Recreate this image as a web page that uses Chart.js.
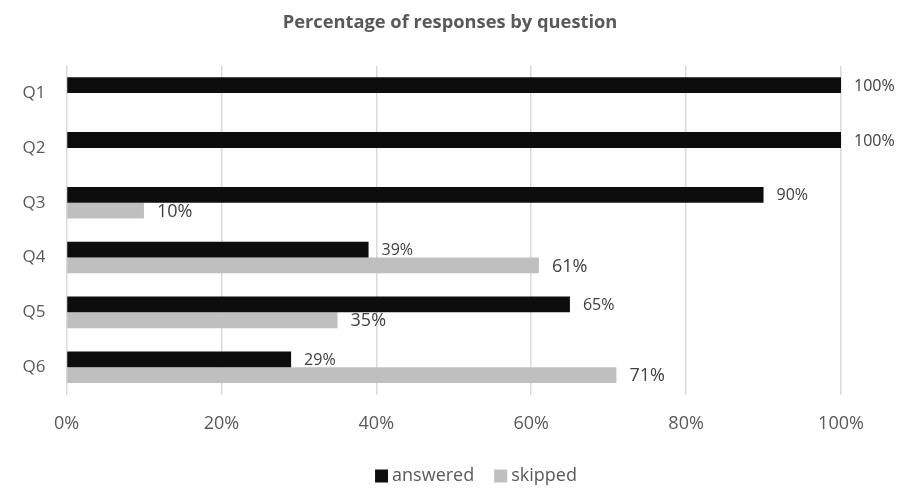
<!DOCTYPE html>
<html>
<head>
<meta charset="utf-8">
<script src="https://cdn.jsdelivr.net/npm/chart.js@4.4.1/dist/chart.umd.min.js"></script>
<style>
  html, body { margin: 0; padding: 0; background: #ffffff; }
  #wrap { width: 900px; height: 489px; position: relative; }
</style>
</head>
<body>
<div id="wrap"><canvas id="responsesChart"></canvas></div>
<script>
const questions = ["Q1", "Q2", "Q3", "Q4", "Q5", "Q6"];
const answered = [100, 100, 90, 39, 65, 29];
const skipped = [0, 0, 10, 61, 35, 71];
const xTicks = [0, 20, 40, 60, 80, 100];

const FONT = "'Open Sans', 'Liberation Sans', sans-serif";
const TEXT_GREY = "#595959";

// value labels at the end of each bar (skipped zeros are left blank)
const barLabels = {
  id: "barLabels",
  afterDatasetsDraw(chart) {
    const ctx = chart.ctx;
    ctx.save();
    ctx.textBaseline = "middle";
    ctx.textAlign = "left";
    ctx.fillStyle = "#404040";
    chart.data.datasets.forEach((ds, di) => {
      const meta = chart.getDatasetMeta(di);
      ctx.font = `${ds.labelSize}px ${FONT}`;
      meta.data.forEach((bar, i) => {
        const v = ds.data[i];
        if (!v) return;
        ctx.fillText(v + "%", bar.x + 13, bar.y + 1);
      });
    });
    ctx.restore();
  }
};

// legend row under the axis: square swatch, short gap, label
const bottomLegend = {
  id: "bottomLegend",
  afterDraw(chart) {
    const ctx = chart.ctx;
    const box = 13, gap = 4, itemGap = 20, cy = 476, centerX = 476;
    ctx.save();
    ctx.font = `18px ${FONT}`;
    ctx.textBaseline = "middle";
    const items = chart.data.datasets.map(ds => ({
      text: ds.label, color: ds.backgroundColor, w: ctx.measureText(ds.label).width
    }));
    const total = items.reduce((s, it) => s + box + gap + it.w, 0) + itemGap * (items.length - 1);
    let x = centerX - total / 2;
    items.forEach(it => {
      ctx.fillStyle = it.color;
      ctx.fillRect(x, cy - box / 2, box, box);
      ctx.fillStyle = TEXT_GREY;
      ctx.fillText(it.text, x + box + gap, cy);
      x += box + gap + it.w + itemGap;
    });
    ctx.restore();
  }
};

const ctx = document.getElementById("responsesChart").getContext("2d");
new Chart(ctx, {
  type: "bar",
  data: {
    labels: questions,
    datasets: [
      {
        label: "answered",
        data: answered,
        backgroundColor: "#0d0d0d",
        labelSize: 16,
        categoryPercentage: 0.576,
        barPercentage: 1
      },
      {
        label: "skipped",
        data: skipped,
        backgroundColor: "#bfbfbf",
        labelSize: 18,
        categoryPercentage: 0.576,
        barPercentage: 1
      }
    ]
  },
  plugins: [barLabels, bottomLegend],
  options: {
    indexAxis: "y",
    responsive: true,
    maintainAspectRatio: false,
    animation: false,
    layout: { padding: 0 },
    plugins: {
      legend: { display: false },
      tooltip: { enabled: false },
      title: {
        display: true,
        text: "Percentage of responses by question",
        color: TEXT_GREY,
        font: { family: FONT, size: 18.3, weight: "bold" },
        padding: { top: 12.2, bottom: 31.5 }
      }
    },
    scales: {
      x: {
        min: 0,
        max: 100,
        afterBuildTicks: s => { s.ticks = xTicks.map(v => ({ value: v })); },
        afterFit: s => { s.height = 489 - 394.6; },
        ticks: {
          callback: v => v + "%",
          color: TEXT_GREY,
          font: { family: FONT, size: 18 },
          padding: 18
        },
        grid: { color: "#d9d9d9", lineWidth: 1.5, drawTicks: false },
        border: { display: false }
      },
      y: {
        afterFit: s => { s.width = 66.5; },
        ticks: {
          color: TEXT_GREY,
          font: { family: FONT, size: 17 },
          padding: 21
        },
        grid: { display: false, drawTicks: false },
        border: { display: false }
      },
      // empty right-hand gutter that keeps room for the end labels
      gutter: {
        axis: "y",
        position: "right",
        afterFit: s => { s.width = 59; },
        ticks: { display: false },
        grid: { display: false, drawTicks: false },
        border: { display: false }
      }
    }
  }
});
</script>
</body>
</html>
